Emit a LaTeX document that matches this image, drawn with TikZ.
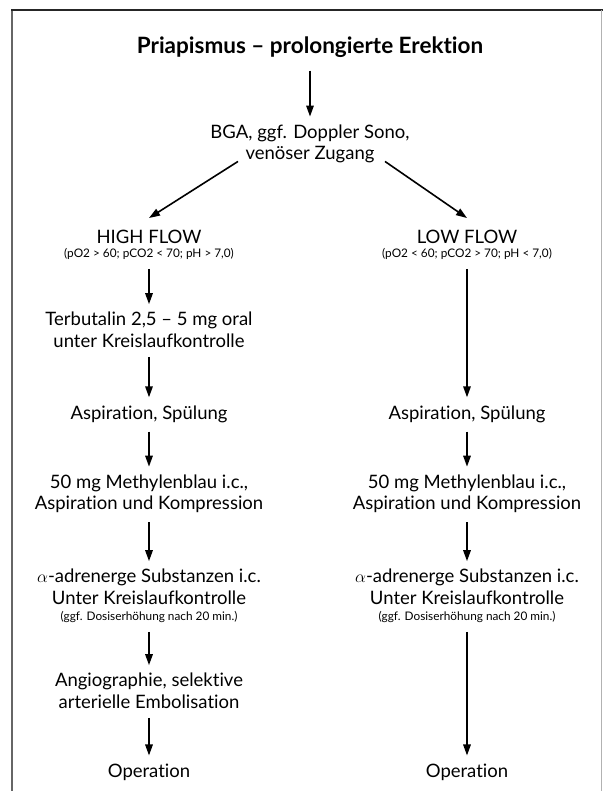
\documentclass[tikz,border=0pt]{standalone}
\usepackage{fontspec}
\setmainfont{Lato}[Ligatures={NoCommon,NoRare}]
\usetikzlibrary{arrows.meta,calc}
\begin{document}
\begin{tikzpicture}[x=1pt,y=-1pt,
  txt/.style={align=center,inner sep=0pt,font=\fontsize{18.5}{21.5}\selectfont},
  sub/.style={align=center,inner sep=0pt,font=\fontsize{11.8}{13}\selectfont},
  ttl/.style={align=center,inner sep=0pt,font=\fontsize{22.5}{26}\selectfont\bfseries},
  tip/.style={-{Triangle[length=11pt,width=7.5pt]}},
  arr/.style={line width=1.6pt,tip,shorten <=9pt,shorten >=8pt},
]
\useasboundingbox (0,0) rectangle (603,791);
\draw[line width=2pt,color=black!60] (12,791) -- (12,10);
\draw[line width=1.8pt,color=black!85] (11,10) -- (603,10);
\draw[line width=0.8pt,color=black!30] (601.5,10) -- (601.5,791);

\node[ttl] (title) at (310,47) {Priapismus – prolongierte Erektion};
\node[txt] (bga) at (310,144) {BGA, ggf. Doppler Sono,\\venöser Zugang};

\node[txt] (hf) at (149,237) {HIGH FLOW};
\node[sub] (hfs) at (149,254) {(pO2 > 60; pCO2 < 70; pH > 7,0)};
\node[txt] (lf) at (467,237) {LOW FLOW};
\node[sub] (lfs) at (467,254) {(pO2 < 60; pCO2 > 70; pH < 7,0)};

\node[txt] (terb) at (149,330) {Terbutalin 2,5 – 5 mg oral\\unter Kreislaufkontrolle};
\node[txt] (asp1) at (149,414) {Aspiration, Spülung};
\node[txt] (asp2) at (467,414) {Aspiration, Spülung};
\node[txt] (meth1) at (149,494) {50 mg Methylenblau i.c.,\\Aspiration und Kompression};
\node[txt] (meth2) at (467,494) {50 mg Methylenblau i.c.,\\Aspiration und Kompression};
\node[txt] (alp1) at (149,587) {$\alpha$-adrenerge Substanzen i.c.\\Unter Kreislaufkontrolle};
\node[sub] (dos1) at (149,617) {(ggf. Dosiserhöhung nach 20 min.)};
\node[txt] (alp2) at (467,587) {$\alpha$-adrenerge Substanzen i.c.\\Unter Kreislaufkontrolle};
\node[sub] (dos2) at (467,617) {(ggf. Dosiserhöhung nach 20 min.)};
\node[txt] (angio) at (149,691) {Angiographie, selektive\\arterielle Embolisation};
\node[txt] (op1) at (149,772) {Operation};
\node[txt] (op2) at (467,772) {Operation};

\draw[arr,shorten <=13pt] (title) -- (bga);
\draw[line width=1.6pt,tip] ($(bga.south)+(-72,-2)$) -- ($(hf.north)+(0,-12)$);
\draw[line width=1.6pt,tip] ($(bga.south)+(75,-2)$) -- ($(lf.north)+(0,-12)$);
\draw[arr] (hfs) -- (terb);
\draw[arr] (terb) -- (asp1);
\draw[arr] (asp1) -- (meth1);
\draw[arr] (meth1) -- (alp1);
\draw[arr] (dos1) -- (angio);
\draw[arr] (angio) -- (op1);
\draw[arr] (lfs) -- (asp2);
\draw[arr] (asp2) -- (meth2);
\draw[arr] (meth2) -- (alp2);
\draw[arr] (dos2) -- (op2);
\end{tikzpicture}
\end{document}
